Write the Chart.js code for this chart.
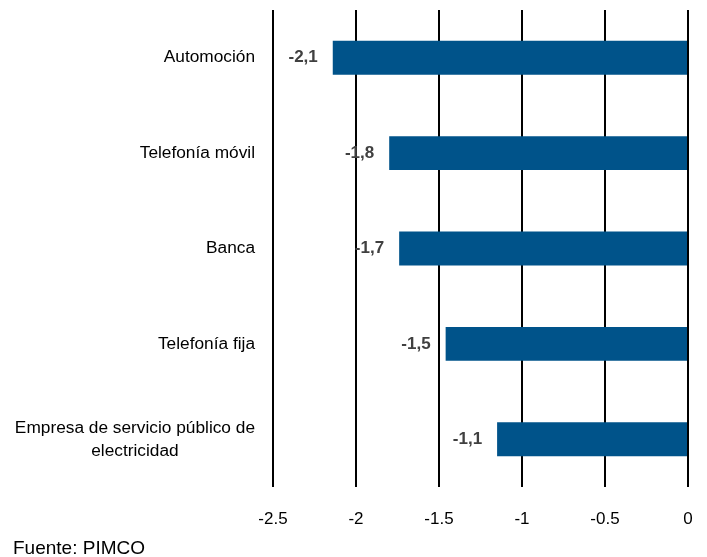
<!DOCTYPE html>
<html>
<head>
<meta charset="utf-8">
<script src="https://cdn.jsdelivr.net/npm/chart.js@4/dist/chart.umd.min.js"></script>
<style>
  html, body { margin: 0; padding: 0; background: #fff; }
  #wrap { position: relative; width: 707px; height: 557px; }
  #src { position: absolute; left: 13px; top: 537px; font: 19px "Liberation Sans", Arial, sans-serif; color: #000; }
</style>
</head>
<body>
<div id="wrap">
  <canvas id="c" width="707" height="557"></canvas>
  <div id="src">Fuente: PIMCO</div>
</div>
<script>
const categories = ["Automoción", "Telefonía móvil", "Banca", "Telefonía fija", ["Empresa de servicio público de", "electricidad"]];
const values = [-2.14, -1.80, -1.74, -1.46, -1.15];
const valueLabels = ["-2,1", "-1,8", "-1,7", "-1,5", "-1,1"];
const xTicks = [-2.5, -2, -1.5, -1, -0.5, 0];

const FONT = '"Liberation Sans", Arial, sans-serif';

const catLabelPlugin = {
  id: 'catLabels',
  afterDraw(chart) {
    const ctx = chart.ctx;
    const y = chart.scales.y;
    ctx.save();
    ctx.font = '17.3px ' + FONT;
    ctx.fillStyle = '#000';
    ctx.textBaseline = 'middle';
    const right = 255;
    categories.forEach((lab, i) => {
      const cy = y.getPixelForValue(i);
      const lines = Array.isArray(lab) ? lab : [lab];
      const widths = lines.map(l => ctx.measureText(l).width);
      const maxW = Math.max(...widths);
      const center = right - maxW / 2;
      const lh = 23;
      const startY = cy - (lines.length - 1) * lh / 2;
      ctx.textAlign = 'center';
      lines.forEach((l, k) => ctx.fillText(l, center, startY + k * lh));
    });
    ctx.restore();
  }
};

const valueLabelPlugin = {
  id: 'valLabels',
  afterDatasetsDraw(chart) {
    const ctx = chart.ctx;
    const meta = chart.getDatasetMeta(0);
    ctx.save();
    ctx.font = 'bold 17px ' + FONT;
    ctx.fillStyle = '#404040';
    ctx.textAlign = 'right';
    ctx.textBaseline = 'middle';
    meta.data.forEach((bar, i) => {
      ctx.fillText(valueLabels[i], bar.x - 15, bar.y);
    });
    ctx.restore();
  }
};

new Chart(document.getElementById('c'), {
  type: 'bar',
  data: {
    labels: categories,
    datasets: [{
      data: values,
      backgroundColor: '#00538A',
      borderWidth: 0,
      barPercentage: 0.355,
      categoryPercentage: 1.0
    }]
  },
  options: {
    indexAxis: 'y',
    responsive: false,
    animation: false,
    layout: { padding: { top: 10, right: 19, bottom: 25, left: 0 } },
    plugins: { legend: { display: false }, tooltip: { enabled: false } },
    scales: {
      x: {
        min: -2.5,
        max: 0,
        afterBuildTicks(scale) { scale.ticks = xTicks.map(v => ({ value: v })); },
        afterFit(scale) { scale.height = 45; scale.paddingLeft = 0; scale.paddingRight = 0; },
        grid: { color: '#000', lineWidth: 2, drawTicks: false },
        border: { display: false },
        ticks: {
          padding: 22,
          color: '#000',
          font: { family: FONT, size: 17 },
          maxRotation: 0,
          callback: (v) => String(v)
        }
      },
      y: {
        afterFit(scale) { scale.width = 273; },
        grid: { display: false },
        border: { display: false },
        ticks: { display: false }
      }
    }
  },
  plugins: [catLabelPlugin, valueLabelPlugin]
});
</script>
</body>
</html>
